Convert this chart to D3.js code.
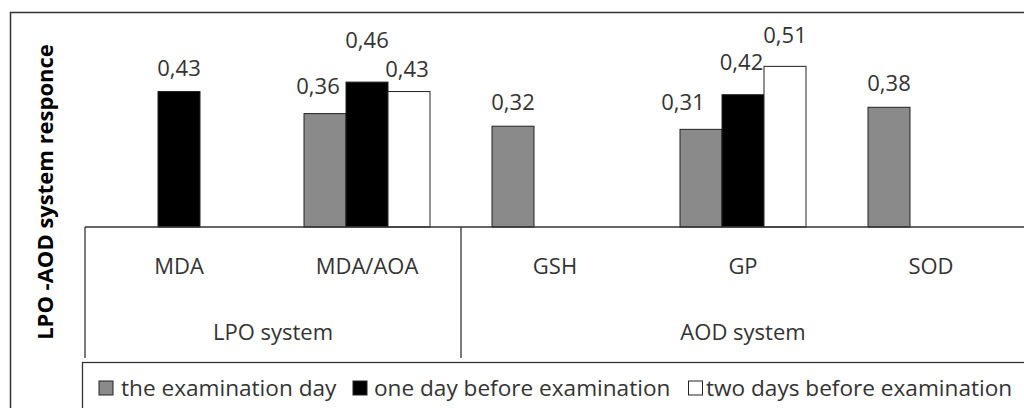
<!DOCTYPE html>
<html>
<head>
<meta charset="utf-8">
<script src="https://cdn.jsdelivr.net/npm/d3@7"></script>
<style>
  html, body { margin: 0; padding: 0; background: #fff; }
  svg { display: block; }
  text { font-family: "Open Sans", sans-serif; fill: #333; }
</style>
</head>
<body>
<svg id="chart" width="1024" height="408"></svg>
<script>
// Indicators, grouped by system
const categories = ["MDA", "MDA/AOA", "GSH", "GP", "SOD"];
const groups = [
  { name: "LPO system", members: ["MDA", "MDA/AOA"] },
  { name: "AOD system", members: ["GSH", "GP", "SOD"] }
];
const seriesNames = ["the examination day", "one day before examination", "two days before examination"];

// Response values per series (null = not measured)
const examDay      = [null, 0.36, 0.32, 0.31, 0.38];
const oneDayBefore = [0.43, 0.46, null, 0.42, null];
const twoDaysBefore = [null, 0.43, null, 0.51, null];
const seriesValues = [examDay, oneDayBefore, twoDaysBefore];

const yDomain = [0, 0.6];
const axisTitle = "LPO -AOD system responce";

// ---- styling / layout ----
const fills = ["#8a8a8a", "#000000", "#ffffff"];
const plot = { left: 85, right: 1025, base: 227, top: 38 };
const tableBottom = 358;
const barWidth = 42;
// small label shifts where neighbouring labels would collide [series][category] -> [dx, dy]
const labelShift = {
  "0-1": [-7, -4], "1-1": [0, -18.5], "2-1": [-2, 1.5],
  "0-3": [-18, -3], "1-3": [-1.5, -8.7], "2-3": [0, -7]
};

const svg = d3.select("#chart");
const fmt = v => d3.format(".2f")(v).replace(".", ",");

const x = d3.scaleBand().domain(categories).range([plot.left, plot.right]);
const bw = x.bandwidth();
const xs = d3.scaleBand().domain(d3.range(seriesNames.length)).range([0, bw])
  .paddingOuter((bw - barWidth * seriesNames.length) / 2 / barWidth);
const y = d3.scaleLinear().domain(yDomain).range([plot.base, plot.top]);

// outer frame
svg.append("rect").attr("x", 10.5).attr("y", 12.5).attr("width", 1030).attr("height", 420)
  .attr("fill", "#fff").attr("stroke", "#333").attr("stroke-width", 1.5);

// bars
const bars = [];
seriesValues.forEach((vals, s) => vals.forEach((v, c) => {
  if (v != null) bars.push({ s, c, v });
}));

svg.append("g").selectAll("rect").data(bars).join("rect")
  .attr("x", d => x(categories[d.c]) + xs(d.s))
  .attr("y", d => y(d.v))
  .attr("width", xs.bandwidth())
  .attr("height", d => y(0) - y(d.v))
  .attr("fill", d => fills[d.s])
  .attr("stroke", "#222").attr("stroke-width", 1);

// value labels
svg.append("g").selectAll("text").data(bars).join("text")
  .attr("x", d => x(categories[d.c]) + xs(d.s) + xs.bandwidth() / 2 + (labelShift[d.s + "-" + d.c] || [0, 0])[0])
  .attr("y", d => y(d.v) - 16 + (labelShift[d.s + "-" + d.c] || [0, 0])[1])
  .attr("text-anchor", "middle").attr("font-size", 22)
  .text(d => fmt(d.v));

// category table: baseline, separators, labels
const tbl = svg.append("g").attr("stroke", "#333").attr("stroke-width", 1.3);
tbl.append("line").attr("x1", plot.left).attr("x2", 1030).attr("y1", plot.base).attr("y2", plot.base);
const sepX = [plot.left, x(groups[1].members[0])];
sepX.forEach(sx => tbl.append("line").attr("x1", sx).attr("x2", sx)
  .attr("y1", plot.base).attr("y2", tableBottom));

svg.append("g").selectAll("text").data(categories).join("text")
  .attr("x", d => x(d) + bw / 2).attr("y", 274)
  .attr("text-anchor", "middle").attr("font-size", 22)
  .text(d => d);

svg.append("g").selectAll("text").data(groups).join("text")
  .attr("x", g => (x(g.members[0]) + x(g.members[g.members.length - 1]) + bw) / 2)
  .attr("y", 340).attr("text-anchor", "middle").attr("font-size", 22)
  .text(g => g.name);

// axis title
svg.append("text")
  .attr("transform", `translate(53,192) rotate(-90)`)
  .attr("text-anchor", "middle").attr("font-size", 22).attr("font-weight", 700)
  .style("fill", "#000")
  .text(axisTitle);

// legend box
svg.append("rect").attr("x", 82.5).attr("y", 362.5).attr("width", 960).attr("height", 80)
  .attr("fill", "#fff").attr("stroke", "#333").attr("stroke-width", 1.3);

const legendItems = [
  { sq: 99, tx: 121 },
  { sq: 353, tx: 374 },
  { sq: 688.5, tx: 706 }
];
const lg = svg.append("g").selectAll("g").data(seriesNames).join("g");
lg.append("rect")
  .attr("x", (d, i) => legendItems[i].sq).attr("y", 381)
  .attr("width", 14).attr("height", 14)
  .attr("fill", (d, i) => fills[i]).attr("stroke", "#222").attr("stroke-width", 1);
lg.append("text")
  .attr("x", (d, i) => legendItems[i].tx).attr("y", 396)
  .attr("font-size", 22.6)
  .text(d => d);
</script>
</body>
</html>
